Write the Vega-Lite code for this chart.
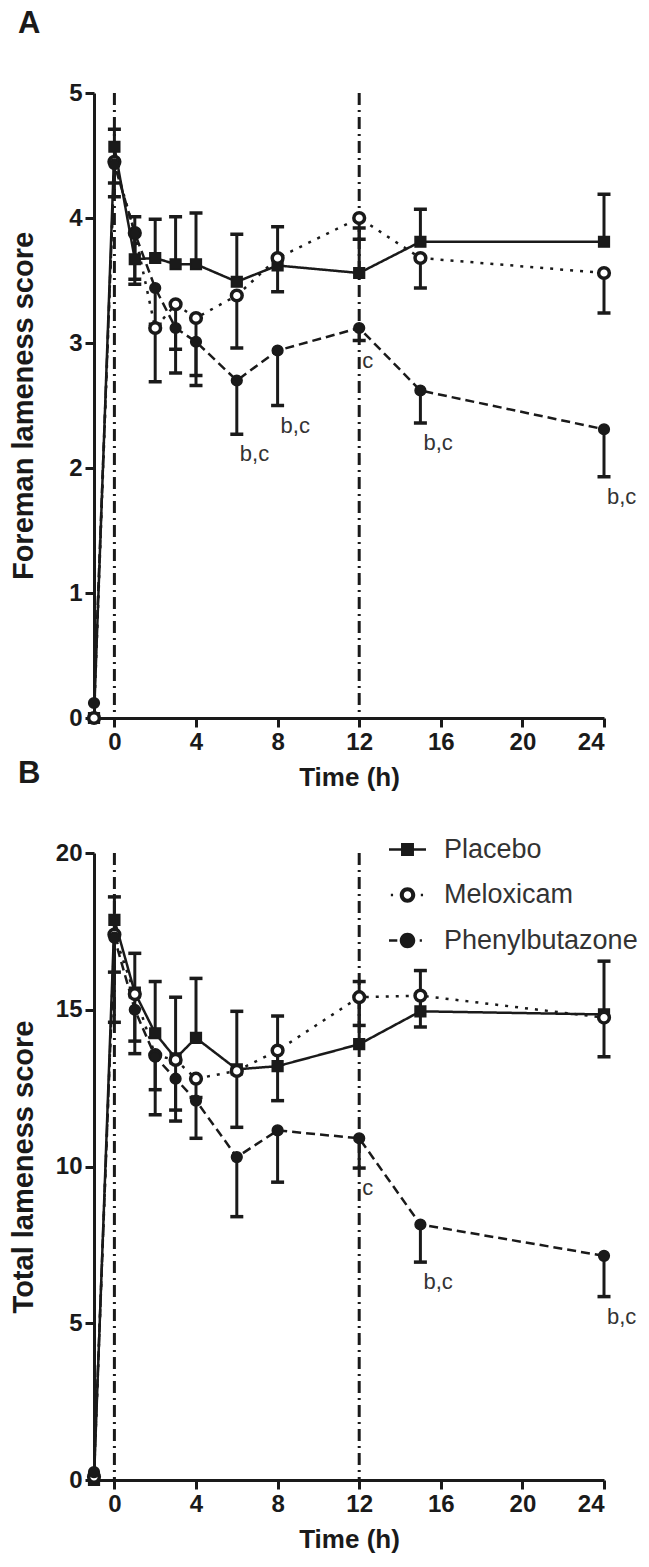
{
  "$schema": "https://vega.github.io/schema/vega-lite/v6.json",
  "background": "white",
  "padding": {"left": 9, "top": 8, "right": 5, "bottom": 5},
  "bounds": "flush",
  "spacing": 135,
  "config": {
    "font": "Liberation Sans",
    "view": {"stroke": null},
    "axis": {
      "domainColor": "#1a1a1a", "domainWidth": 3, "tickColor": "#1a1a1a", "tickWidth": 3, "tickSize": 9,
      "labelFontSize": 24, "labelFontWeight": "bold", "labelColor": "#1a1a1a", "labelPadding": 3,
      "titleFontSize": 26, "titleFontWeight": "bold", "titleColor": "#1a1a1a", "grid": false
    },
    "title": {"fontSize": 31, "fontWeight": "bold", "anchor": "start", "color": "#1a1a1a", "frame": "group"}
  },
  "resolve": {
    "scale": {"x": "independent", "y": "independent", "shape": "independent"},
    "legend": {"shape": "independent"}
  },
  "datasets": {
    "refs": [{"t": 0}, {"t": 12}],
    "ann": [
      {"panel": "A", "time": 6, "y": 2.27, "label": "b,c"},
      {"panel": "A", "time": 8, "y": 2.50, "label": "b,c"},
      {"panel": "A", "time": 12, "y": 3.02, "label": "c"},
      {"panel": "A", "time": 15, "y": 2.36, "label": "b,c"},
      {"panel": "A", "time": 24, "y": 1.93, "label": "b,c"},
      {"panel": "B", "time": 12, "y": 9.95, "label": "c"},
      {"panel": "B", "time": 15, "y": 6.95, "label": "b,c"},
      {"panel": "B", "time": 24, "y": 5.85, "label": "b,c"}
    ],
    "pts": [
      {"panel": "A", "series": "Placebo", "time": -1, "value": 0, "bound": null},
      {"panel": "A", "series": "Placebo", "time": 0, "value": 4.57, "bound": 4.71},
      {"panel": "A", "series": "Placebo", "time": 1, "value": 3.67, "bound": 4.01},
      {"panel": "A", "series": "Placebo", "time": 2, "value": 3.68, "bound": 3.99},
      {"panel": "A", "series": "Placebo", "time": 3, "value": 3.63, "bound": 4.01},
      {"panel": "A", "series": "Placebo", "time": 4, "value": 3.63, "bound": 4.04},
      {"panel": "A", "series": "Placebo", "time": 6, "value": 3.49, "bound": 3.87},
      {"panel": "A", "series": "Placebo", "time": 8, "value": 3.62, "bound": 3.93},
      {"panel": "A", "series": "Placebo", "time": 12, "value": 3.56, "bound": 3.92},
      {"panel": "A", "series": "Placebo", "time": 15, "value": 3.81, "bound": 4.07},
      {"panel": "A", "series": "Placebo", "time": 24, "value": 3.81, "bound": 4.19},
      {"panel": "A", "series": "Meloxicam", "time": -1, "value": 0, "bound": null},
      {"panel": "A", "series": "Meloxicam", "time": 0, "value": 4.45, "bound": 4.28},
      {"panel": "A", "series": "Meloxicam", "time": 1, "value": 3.88, "bound": 3.51},
      {"panel": "A", "series": "Meloxicam", "time": 2, "value": 3.12, "bound": 2.69},
      {"panel": "A", "series": "Meloxicam", "time": 3, "value": 3.31, "bound": 2.95},
      {"panel": "A", "series": "Meloxicam", "time": 4, "value": 3.20, "bound": 2.74},
      {"panel": "A", "series": "Meloxicam", "time": 6, "value": 3.38, "bound": 2.96},
      {"panel": "A", "series": "Meloxicam", "time": 8, "value": 3.68, "bound": 3.41},
      {"panel": "A", "series": "Meloxicam", "time": 12, "value": 4.00, "bound": 3.83},
      {"panel": "A", "series": "Meloxicam", "time": 15, "value": 3.68, "bound": 3.44},
      {"panel": "A", "series": "Meloxicam", "time": 24, "value": 3.56, "bound": 3.24},
      {"panel": "A", "series": "Phenylbutazone", "time": -1, "value": 0.12, "bound": null},
      {"panel": "A", "series": "Phenylbutazone", "time": 0, "value": 4.43, "bound": 4.17},
      {"panel": "A", "series": "Phenylbutazone", "time": 1, "value": 3.88, "bound": 3.47},
      {"panel": "A", "series": "Phenylbutazone", "time": 2, "value": 3.44, "bound": 3.15},
      {"panel": "A", "series": "Phenylbutazone", "time": 3, "value": 3.12, "bound": 2.76},
      {"panel": "A", "series": "Phenylbutazone", "time": 4, "value": 3.01, "bound": 2.66},
      {"panel": "A", "series": "Phenylbutazone", "time": 6, "value": 2.70, "bound": 2.27},
      {"panel": "A", "series": "Phenylbutazone", "time": 8, "value": 2.94, "bound": 2.50},
      {"panel": "A", "series": "Phenylbutazone", "time": 12, "value": 3.12, "bound": 3.02},
      {"panel": "A", "series": "Phenylbutazone", "time": 15, "value": 2.62, "bound": 2.36},
      {"panel": "A", "series": "Phenylbutazone", "time": 24, "value": 2.31, "bound": 1.93},
      {"panel": "B", "series": "Placebo", "time": -1, "value": 0, "bound": null},
      {"panel": "B", "series": "Placebo", "time": 0, "value": 17.87, "bound": 18.6},
      {"panel": "B", "series": "Placebo", "time": 1, "value": 15.55, "bound": 16.8},
      {"panel": "B", "series": "Placebo", "time": 2, "value": 14.25, "bound": 15.9},
      {"panel": "B", "series": "Placebo", "time": 3, "value": 13.45, "bound": 15.4},
      {"panel": "B", "series": "Placebo", "time": 4, "value": 14.1, "bound": 16.0},
      {"panel": "B", "series": "Placebo", "time": 6, "value": 13.1, "bound": 14.95},
      {"panel": "B", "series": "Placebo", "time": 8, "value": 13.2, "bound": 14.8},
      {"panel": "B", "series": "Placebo", "time": 12, "value": 13.9, "bound": 15.9},
      {"panel": "B", "series": "Placebo", "time": 15, "value": 14.95, "bound": 16.25},
      {"panel": "B", "series": "Placebo", "time": 24, "value": 14.85, "bound": 16.55},
      {"panel": "B", "series": "Meloxicam", "time": -1, "value": 0.1, "bound": null},
      {"panel": "B", "series": "Meloxicam", "time": 0, "value": 17.4, "bound": 16.2},
      {"panel": "B", "series": "Meloxicam", "time": 1, "value": 15.5, "bound": 14.0},
      {"panel": "B", "series": "Meloxicam", "time": 2, "value": 13.55, "bound": 11.65},
      {"panel": "B", "series": "Meloxicam", "time": 3, "value": 13.4, "bound": 11.45},
      {"panel": "B", "series": "Meloxicam", "time": 4, "value": 12.8, "bound": 12.2},
      {"panel": "B", "series": "Meloxicam", "time": 6, "value": 13.05, "bound": 11.25},
      {"panel": "B", "series": "Meloxicam", "time": 8, "value": 13.7, "bound": 12.1},
      {"panel": "B", "series": "Meloxicam", "time": 12, "value": 15.4, "bound": 14.5},
      {"panel": "B", "series": "Meloxicam", "time": 15, "value": 15.45, "bound": 14.45},
      {"panel": "B", "series": "Meloxicam", "time": 24, "value": 14.75, "bound": 13.5},
      {"panel": "B", "series": "Phenylbutazone", "time": -1, "value": 0.25, "bound": null},
      {"panel": "B", "series": "Phenylbutazone", "time": 0, "value": 17.3, "bound": 14.6},
      {"panel": "B", "series": "Phenylbutazone", "time": 1, "value": 15.0, "bound": 13.6},
      {"panel": "B", "series": "Phenylbutazone", "time": 2, "value": 13.5, "bound": 12.45},
      {"panel": "B", "series": "Phenylbutazone", "time": 3, "value": 12.8, "bound": 11.8},
      {"panel": "B", "series": "Phenylbutazone", "time": 4, "value": 12.1, "bound": 10.9},
      {"panel": "B", "series": "Phenylbutazone", "time": 6, "value": 10.3, "bound": 8.4},
      {"panel": "B", "series": "Phenylbutazone", "time": 8, "value": 11.15, "bound": 9.5},
      {"panel": "B", "series": "Phenylbutazone", "time": 12, "value": 10.9, "bound": 9.95},
      {"panel": "B", "series": "Phenylbutazone", "time": 15, "value": 8.15, "bound": 6.95},
      {"panel": "B", "series": "Phenylbutazone", "time": 24, "value": 7.15, "bound": 5.85}
    ]
  },
  "vconcat": [
    {
      "width": 510, "height": 625,
      "title": {"text": "A", "dx": -76, "offset": 41},
      "layer": [
        {
          "data": {"name": "refs"},
          "mark": {"type": "rule", "color": "#1a1a1a", "strokeWidth": 3, "strokeDash": [12, 5, 2, 5]},
          "encoding": {"x": {"field": "t", "type": "quantitative", "scale": {"domain": [-1, 24], "nice": false, "zero": false}}}
        },
        {
          "data": {"name": "pts"},
          "transform": [{"filter": "datum.panel === 'A'"}],
          "mark": {"type": "line", "color": "#1a1a1a", "strokeWidth": 2.5},
          "encoding": {
            "x": {"field": "time", "type": "quantitative", "scale": {"domain": [-1, 24], "nice": false, "zero": false},
                  "axis": {"values": [0, 4, 8, 12, 16, 20, 24], "title": "Time (h)", "titlePadding": 10}},
            "y": {"field": "value", "type": "quantitative", "scale": {"domain": [0, 5], "nice": false},
                  "axis": {"values": [0, 1, 2, 3, 4, 5], "format": "d", "title": "Foreman lameness score", "titlePadding": 30, "titleFontSize": 29}},
            "strokeDash": {"condition": [{"test": "datum.series === 'Placebo'", "value": [1, 0]}, {"test": "datum.series === 'Meloxicam'", "value": [3, 7]}], "value": [9, 5]},
            "detail": {"field": "series"}
          }
        },
        {
          "data": {"name": "pts"},
          "transform": [{"filter": "datum.panel === 'A' && datum.bound != null"}],
          "mark": {"type": "rule", "color": "#1a1a1a", "strokeWidth": 3},
          "encoding": {
            "x": {"field": "time", "type": "quantitative"},
            "y": {"field": "value", "type": "quantitative"},
            "y2": {"field": "bound"}
          }
        },
        {
          "data": {"name": "pts"},
          "transform": [{"filter": "datum.panel === 'A' && datum.bound != null"}],
          "mark": {"type": "tick", "orient": "horizontal", "color": "#1a1a1a", "size": 13, "thickness": 3.5, "opacity": 1},
          "encoding": {
            "x": {"field": "time", "type": "quantitative"},
            "y": {"field": "bound", "type": "quantitative"}
          }
        },
        {
          "data": {"name": "pts"},
          "transform": [{"filter": "datum.panel === 'A'"}],
          "mark": {"type": "point", "filled": true, "stroke": "#1a1a1a", "size": 115, "opacity": 1},
          "encoding": {
            "x": {"field": "time", "type": "quantitative"},
            "y": {"field": "value", "type": "quantitative"},
            "shape": {"condition": {"test": "datum.series === 'Placebo'", "value": "square"}, "value": "circle"},
            "fill": {"condition": {"test": "datum.series === 'Meloxicam'", "value": "white"}, "value": "#1a1a1a"},
            "strokeWidth": {"condition": {"test": "datum.series === 'Meloxicam'", "value": 3.5}, "value": 1.5}
          }
        },
        {
          "data": {"name": "ann"},
          "transform": [{"filter": "datum.panel === 'A'"}],
          "mark": {"type": "text", "align": "left", "baseline": "middle", "dx": 3, "dy": 20, "fontSize": 22, "color": "#333333"},
          "encoding": {
            "x": {"field": "time", "type": "quantitative"},
            "y": {"field": "y", "type": "quantitative"},
            "text": {"field": "label"}
          }
        }
      ]
    },
    {
      "width": 510, "height": 627,
      "title": {"text": "B", "dx": -76, "offset": 41},
      "layer": [
        {
          "data": {"name": "refs"},
          "mark": {"type": "rule", "color": "#1a1a1a", "strokeWidth": 3, "strokeDash": [12, 5, 2, 5]},
          "encoding": {"x": {"field": "t", "type": "quantitative", "scale": {"domain": [-1, 24], "nice": false, "zero": false}}}
        },
        {
          "data": {"name": "pts"},
          "transform": [{"filter": "datum.panel === 'B'"}],
          "mark": {"type": "line", "color": "#1a1a1a", "strokeWidth": 2.5},
          "encoding": {
            "x": {"field": "time", "type": "quantitative", "scale": {"domain": [-1, 24], "nice": false, "zero": false},
                  "axis": {"values": [0, 4, 8, 12, 16, 20, 24], "title": "Time (h)", "titlePadding": 10}},
            "y": {"field": "value", "type": "quantitative", "scale": {"domain": [0, 20], "nice": false},
                  "axis": {"values": [0, 5, 10, 15, 20], "format": "d", "title": "Total lameness score", "titlePadding": 17, "titleFontSize": 29}},
            "strokeDash": {"condition": [{"test": "datum.series === 'Placebo'", "value": [1, 0]}, {"test": "datum.series === 'Meloxicam'", "value": [3, 7]}], "value": [9, 5]},
            "detail": {"field": "series"}
          }
        },
        {
          "data": {"name": "pts"},
          "transform": [{"filter": "datum.panel === 'B' && datum.bound != null"}],
          "mark": {"type": "rule", "color": "#1a1a1a", "strokeWidth": 3},
          "encoding": {
            "x": {"field": "time", "type": "quantitative"},
            "y": {"field": "value", "type": "quantitative"},
            "y2": {"field": "bound"}
          }
        },
        {
          "data": {"name": "pts"},
          "transform": [{"filter": "datum.panel === 'B' && datum.bound != null"}],
          "mark": {"type": "tick", "orient": "horizontal", "color": "#1a1a1a", "size": 13, "thickness": 3.5, "opacity": 1},
          "encoding": {
            "x": {"field": "time", "type": "quantitative"},
            "y": {"field": "bound", "type": "quantitative"}
          }
        },
        {
          "data": {"name": "pts"},
          "transform": [{"filter": "datum.panel === 'B'"}],
          "mark": {"type": "point", "filled": true, "stroke": "#1a1a1a", "size": 115, "opacity": 1},
          "encoding": {
            "x": {"field": "time", "type": "quantitative"},
            "y": {"field": "value", "type": "quantitative"},
            "shape": {"condition": {"test": "datum.series === 'Placebo'", "value": "square"}, "value": "circle"},
            "fill": {"condition": {"test": "datum.series === 'Meloxicam'", "value": "white"}, "value": "#1a1a1a"},
            "strokeWidth": {"condition": {"test": "datum.series === 'Meloxicam'", "value": 3.5}, "value": 1.5}
          }
        },
        {
          "data": {"name": "pts"},
          "transform": [{"filter": "datum.panel === 'legend-only'"}],
          "mark": {"type": "point", "filled": true, "color": "#1a1a1a", "strokeWidth": 0, "opacity": 1},
          "encoding": {
            "shape": {"field": "series", "type": "nominal",
                      "scale": {"domain": ["Placebo", "Meloxicam", "Phenylbutazone"],
                                "range": [
                                  "M-1,-0.07H1V0.07H-1ZM-0.35,-0.35H0.35V0.35H-0.35Z",
                                  "M-0.42,0A0.42,0.42 0 1,1 0.42,0A0.42,0.42 0 1,1 -0.42,0ZM-0.2,0A0.2,0.2 0 1,0 0.2,0A0.2,0.2 0 1,0 -0.2,0ZM-0.9,-0.07H-0.78V0.07H-0.9ZM0.72,-0.07H0.84V0.07H0.72Z",
                                  "M-1,-0.07H-0.55V0.07H-1ZM-0.42,0A0.42,0.42 0 1,1 0.42,0A0.42,0.42 0 1,1 -0.42,0ZM0.66,-0.07H0.78V0.07H0.66Z"
                                ]},
                      "legend": {
                        "orient": "none", "legendX": 295, "legendY": -22, "title": null,
                        "symbolSize": 1369, "symbolStrokeWidth": 0, "symbolOpacity": 1, "symbolFillColor": "#1a1a1a",
                        "labelFontSize": 27, "labelFont": "Liberation Sans", "labelFontWeight": "normal", "labelColor": "#333333",
                        "labelOffset": 18, "rowPadding": 13.5, "labelLimit": 300
                      }}
          }
        },
        {
          "data": {"name": "ann"},
          "transform": [{"filter": "datum.panel === 'B'"}],
          "mark": {"type": "text", "align": "left", "baseline": "middle", "dx": 3, "dy": 20, "fontSize": 22, "color": "#333333"},
          "encoding": {
            "x": {"field": "time", "type": "quantitative"},
            "y": {"field": "y", "type": "quantitative"},
            "text": {"field": "label"}
          }
        }
      ]
    }
  ]
}
